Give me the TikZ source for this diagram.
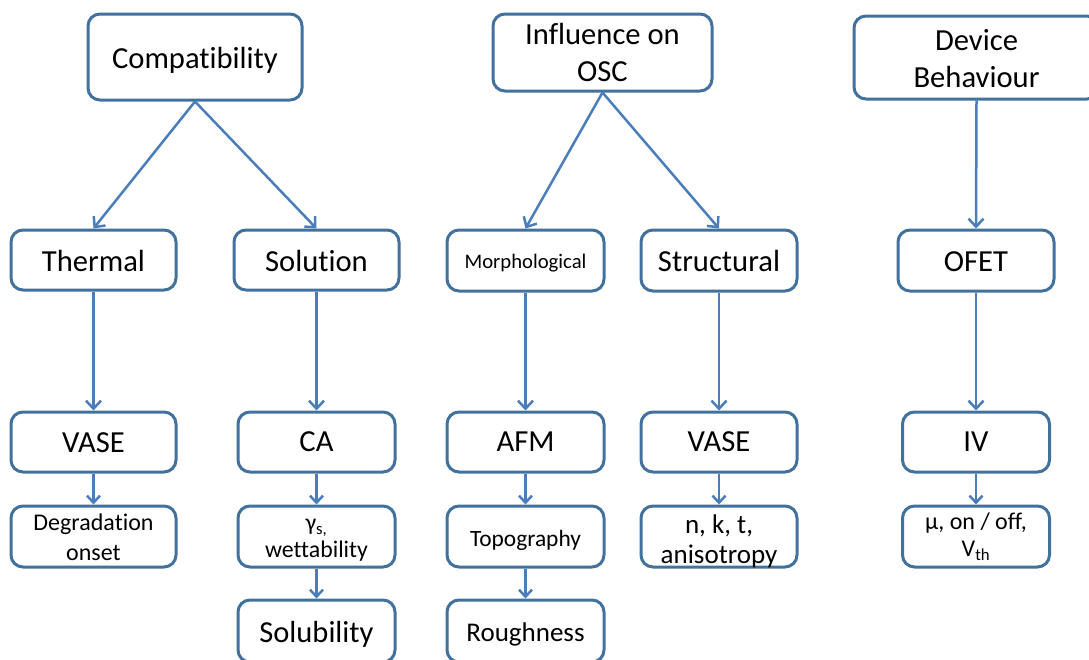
\documentclass[tikz,border=0pt]{standalone}
\usepackage{fontspec}
\setmainfont{Carlito}[Ligatures=NoCommon]
\usetikzlibrary{arrows.meta}
\definecolor{boxline}{RGB}{65,113,156}
\definecolor{arrowline}{RGB}{74,126,187}
\begin{document}
\begin{tikzpicture}[x=1pt,y=-1pt,
  box/.style={draw=boxline, line width=3pt, rounded corners=12pt, fill=white,
    inner sep=0pt},
  tx/.style={align=center, inner sep=0pt, text=black},
  big/.style={font=\fontsize{30.6}{36.7}\selectfont},
  link/.style={draw=arrowline, line width=2.5pt,
    -{Straight Barb[length=8pt,width=15pt,line width=2.5pt]}},
  shortlink/.style={draw=arrowline, line width=2.5pt,
    -{Straight Barb[length=7pt,width=13pt,line width=2.5pt]}}]
\useasboundingbox (0,0) rectangle (1089,659);
\clip (0,0) rectangle (1089,659);

% top row
\node[box,minimum width=214pt,minimum height=86pt,
  label={[tx,big,yshift=-3pt]center:Compatibility}] (comp) at (195,57) {};
\node[box,minimum width=219pt,minimum height=77pt,
  label={[tx,big]center:{Influence on\\OSC}}] (infl) at (602.5,52.5) {};
\node[box,minimum width=245pt,minimum height=83pt,
  label={[tx,big,yshift=-1pt]center:{Device\\Behaviour}}] (dev) at (976.5,57.5) {};

% second row
\node[box,minimum width=165pt,minimum height=60pt,
  label={[tx,big,yshift=-1pt]center:Thermal}] (therm) at (93.5,260) {};
\node[box,minimum width=165pt,minimum height=60pt,
  label={[tx,big,yshift=-1pt]center:Solution}] (sol) at (316.5,260) {};
\node[box,minimum width=157pt,minimum height=61pt,
  label={[tx,font=\fontsize{20.7}{24}\selectfont,yshift=-3pt]center:Morphological}] (morph) at (525.5,260.5) {};
\node[box,minimum width=156pt,minimum height=61pt,
  label={[tx,big]center:Structural}] (struct) at (719,260.5) {};
\node[box,minimum width=156pt,minimum height=61pt,
  label={[tx,big,yshift=-1pt]center:OFET}] (ofet) at (976,260.5) {};

% third row
\node[box,minimum width=165pt,minimum height=60pt,
  label={[tx,big,yshift=-1pt]center:VASE}] (vasea) at (93.5,442) {};
\node[box,minimum width=157pt,minimum height=60pt,
  label={[tx,big]center:CA}] (ca) at (316.5,442) {};
\node[box,minimum width=157pt,minimum height=60pt,
  label={[tx,big]center:AFM}] (afm) at (525.5,442) {};
\node[box,minimum width=156pt,minimum height=60pt,
  label={[tx,big]center:VASE}] (vaseb) at (719,442) {};
\node[box,minimum width=147pt,minimum height=60pt,
  label={[tx,big]center:IV}] (iv) at (976,442) {};

% fourth row
\node[box,minimum width=165pt,minimum height=61pt,
  label={[tx,font=\fontsize{24}{30}\selectfont,yshift=-1pt]center:{Degradation\\onset}}] (degr) at (93.5,536.5) {};
\node[box,minimum width=157pt,minimum height=61pt,
  label={[tx,font=\fontsize{23.8}{27}\selectfont,yshift=-4pt]center:{γ\textsubscript{s,}\\wettability}}] (wett) at (316.5,536.5) {};
\node[box,minimum width=157pt,minimum height=61pt,
  label={[tx,font=\fontsize{23.4}{28}\selectfont,yshift=-4pt]center:Topography}] (topo) at (525.5,536.5) {};
\node[box,minimum width=156pt,minimum height=61pt,
  label={[tx,font=\fontsize{27}{30}\selectfont,yshift=-5pt]center:{n, k, t,\\anisotropy}}] (nkt) at (719,536.5) {};
\node[box,minimum width=147pt,minimum height=61pt,
  label={[tx,font=\fontsize{24}{27}\selectfont]center:{μ, on / off,\\V\textsubscript{th}}}] (mu) at (976,536.5) {};

% fifth row
\node[box,minimum width=157pt,minimum height=62pt,
  label={[tx,font=\fontsize{30.5}{36}\selectfont,yshift=-3pt]center:Solubility}] (solub) at (316.5,631) {};
\node[box,minimum width=157pt,minimum height=62pt,
  label={[tx,font=\fontsize{27}{32}\selectfont,yshift=-3pt]center:Roughness}] (rough) at (525.5,631) {};

% connectors
\draw[link] (comp.south) -- (therm.north);
\draw[link] (comp.south) -- (sol.north);
\draw[link] (infl.south) -- (morph.north);
\draw[link] (infl.south) -- (struct.north);
\draw[link] (dev.south) -- (ofet.north);

\draw[link] (therm.south) -- (vasea.north);
\draw[link] (sol.south) -- (ca.north);
\draw[link] (morph.south) -- (afm.north);
\draw[link] (struct.south) -- (vaseb.north);
\draw[link] (ofet.south) -- (iv.north);

\draw[shortlink] (vasea.south) -- (degr.north);
\draw[shortlink] (ca.south) -- (wett.north);
\draw[shortlink] (afm.south) -- (topo.north);
\draw[shortlink] (vaseb.south) -- (nkt.north);
\draw[shortlink] (iv.south) -- (mu.north);
\draw[shortlink] (wett.south) -- (solub.north);
\draw[shortlink] (topo.south) -- (rough.north);
\end{tikzpicture}
\end{document}
